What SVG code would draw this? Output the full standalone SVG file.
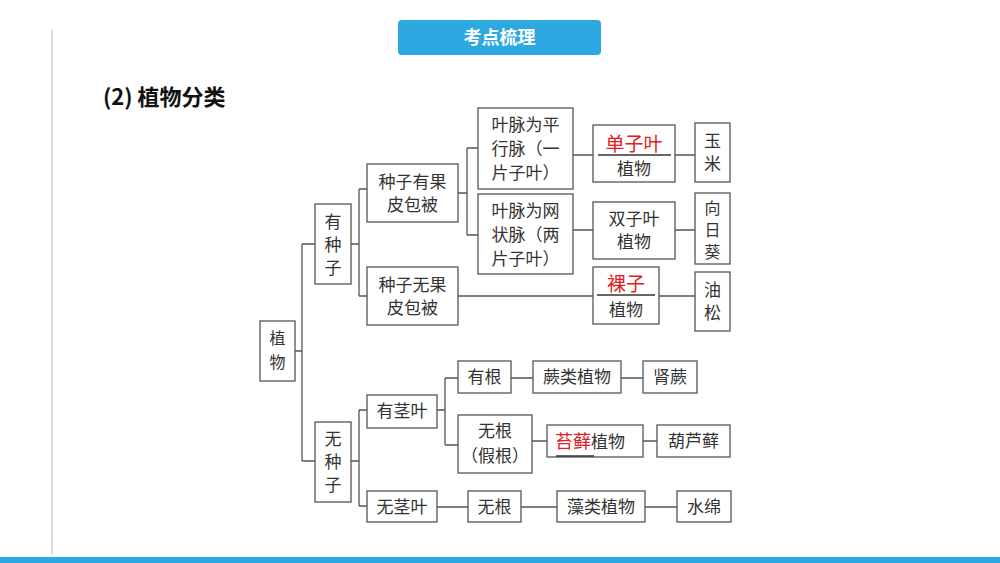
<svg xmlns="http://www.w3.org/2000/svg" width="1000" height="563" viewBox="0 0 1000 563">
<style>
.b{fill:#fff;stroke:#555;stroke-width:1.3}
text{font-family:"Noto Sans CJK SC","Liberation Sans",sans-serif;font-size:17px;fill:#333;text-anchor:middle}
.r{fill:#e02020}
.c{fill:none;stroke:#555;stroke-width:1.3}
.v{font-size:16px}
</style>
<rect width="1000" height="563" fill="#fff"/>
<line x1="52" y1="30" x2="52" y2="555" stroke="#ddd" stroke-width="2"/>
<rect x="0" y="557" width="1000" height="6" fill="#2ea8e0"/>
<rect x="398" y="20" width="203" height="35" rx="4" fill="#2ea8e0"/>
<text x="499.5" y="44" style="fill:#fff;font-weight:bold;font-size:18px">考点梳理</text>
<text x="103" y="105" style="text-anchor:start;font-weight:bold;font-size:22px;fill:#111">(2) 植物分类</text>
<g id="connectors" class="c">
<path d="M295 351H302M302 244V461M302 244H315M302 461H315"/>
<path d="M351 244H359M359 189V296M359 189H367M359 296H367"/>
<path d="M458 193H467M467 148V235M467 148H478M467 235H478"/>
<path d="M573 155H593M675 155H695M573 230H593M675 230H695"/>
<path d="M458 296H593M659 296H695"/>
<path d="M351 461H359M359 410V506M359 410H367M359 506H367"/>
<path d="M437 410H445M445 378V445M445 378H458M445 445H458"/>
<path d="M511 378H533M621 378H643M532 441H547M643 441H657"/>
<path d="M437 507H468M521 507H557M645 507H677"/>
</g>
<g id="n-zhiwu"><rect class="b" x="260" y="321" width="35" height="60"/><text class="v" x="277.5" y="344">植</text><text class="v" x="277.5" y="368">物</text></g>
<g id="n-youzhongzi"><rect class="b" x="315" y="204" width="36" height="80"/><text x="333" y="228">有</text><text x="333" y="251">种</text><text x="333" y="274">子</text></g>
<g id="n-youguopi"><rect class="b" x="367" y="164" width="91" height="58"/><text x="412.5" y="188">种子有果</text><text x="412.5" y="211">皮包被</text></g>
<g id="n-pingxing"><rect class="b" x="478" y="108" width="95" height="81"/><text x="525.5" y="131">叶脉为平</text><text x="525.5" y="155">行脉（一</text><text x="525.5" y="179">片子叶）</text></g>
<g id="n-wangzhuang"><rect class="b" x="478" y="194" width="95" height="80"/><text x="525.5" y="217">叶脉为网</text><text x="525.5" y="241">状脉（两</text><text x="525.5" y="265">片子叶）</text></g>
<g id="n-danziye"><rect class="b" x="593" y="125" width="82" height="57"/><text x="634" y="151" class="r" style="font-size:19px">单子叶</text><line x1="598" y1="155" x2="671" y2="155" stroke="#333" stroke-width="1.5"/><text x="634" y="175">植物</text></g>
<g id="n-yumi"><rect class="b" x="695" y="123" width="35" height="59"/><text x="712.5" y="147">玉</text><text x="712.5" y="170">米</text></g>
<g id="n-shuangziye"><rect class="b" x="593" y="202" width="82" height="57"/><text x="634" y="225">双子叶</text><text x="634" y="248">植物</text></g>
<g id="n-xiangrikui"><rect class="b" x="695" y="193" width="35" height="71"/><text class="v" x="712.5" y="214">向</text><text class="v" x="712.5" y="236">日</text><text class="v" x="712.5" y="258">葵</text></g>
<g id="n-wuguopi"><rect class="b" x="367" y="267" width="91" height="58"/><text x="412.5" y="291">种子无果</text><text x="412.5" y="314">皮包被</text></g>
<g id="n-luozi"><rect class="b" x="593" y="267" width="66" height="57"/><text x="626" y="291" class="r" style="font-size:19px">裸子</text><line x1="597" y1="295" x2="655" y2="295" stroke="#333" stroke-width="1.5"/><text x="626" y="316">植物</text></g>
<g id="n-yousong"><rect class="b" x="695" y="272" width="35" height="59"/><text x="712.5" y="296">油</text><text x="712.5" y="319">松</text></g>
<g id="n-wuzhongzi"><rect class="b" x="315" y="422" width="36" height="80"/><text x="333" y="445">无</text><text x="333" y="468">种</text><text x="333" y="491">子</text></g>
<g id="n-youjingye"><rect class="b" x="367" y="395" width="70" height="33"/><text x="402" y="417">有茎叶</text></g>
<g id="n-yougen"><rect class="b" x="458" y="361" width="53" height="32"/><text x="484.5" y="383">有根</text></g>
<g id="n-jue"><rect class="b" x="533" y="361" width="88" height="32"/><text x="577" y="383">蕨类植物</text></g>
<g id="n-shenjue"><rect class="b" x="643" y="361" width="54" height="32"/><text x="670" y="383">肾蕨</text></g>
<g id="n-wugen-jiagen"><rect class="b" x="458" y="415" width="74" height="58"/><text x="495" y="437">无根</text><text x="495" y="462">（假根）</text></g>
<g id="n-taixian"><rect class="b" x="547" y="425" width="96" height="32"/><text x="555" y="448" style="text-anchor:start"><tspan class="r" style="font-size:18px">苔藓</tspan>植物</text><line x1="556" y1="456" x2="594" y2="456" stroke="#333" stroke-width="1.3"/></g>
<g id="n-huluxian"><rect class="b" x="657" y="425" width="73" height="32"/><text x="693.5" y="447">葫芦藓</text></g>
<g id="n-wujingye"><rect class="b" x="367" y="491" width="70" height="31"/><text x="402" y="513">无茎叶</text></g>
<g id="n-wugen"><rect class="b" x="468" y="491" width="53" height="31"/><text x="494.5" y="513">无根</text></g>
<g id="n-zaolei"><rect class="b" x="557" y="491" width="88" height="31"/><text x="601" y="513">藻类植物</text></g>
<g id="n-shuimian"><rect class="b" x="677" y="491" width="54" height="31"/><text x="704" y="513">水绵</text></g>
</svg>
